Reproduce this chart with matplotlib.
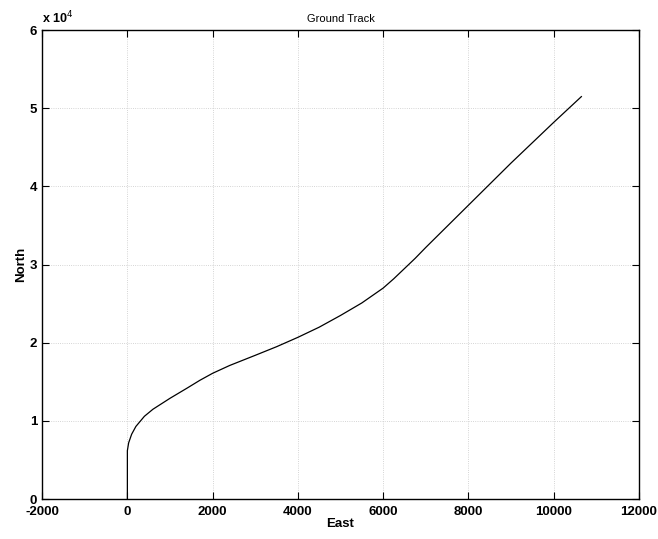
import matplotlib.pyplot as plt
from matplotlib.ticker import FuncFormatter

# ground track (metres)
east = [0, 0, 0, 30, 100, 200, 400, 600, 1000, 1400, 1700, 2000, 2400, 3000,
        3500, 4000, 4500, 5000, 5500, 6000, 6250, 6500, 6750, 7000, 7500,
        8000, 9000, 10000, 10650]
north = [0, 3000, 6200, 7200, 8300, 9300, 10600, 11500, 12900, 14200, 15200,
         16100, 17100, 18400, 19500, 20700, 22000, 23500, 25100, 27000, 28200,
         29500, 30800, 32200, 34900, 37600, 43000, 48200, 51500]

xticks = [-2000, 0, 2000, 4000, 6000, 8000, 10000, 12000]
yticks = [0, 10000, 20000, 30000, 40000, 50000, 60000]

plt.rcParams['font.family'] = ['Liberation Sans', 'DejaVu Sans']
plt.rcParams['axes.unicode_minus'] = False

fig = plt.figure(figsize=(6.58, 5.39), dpi=100)
ax = fig.add_axes([0.064, 0.074, 0.907, 0.870])

ax.plot(east, north, color='black', linewidth=0.9)

ax.set_xlim(-2000, 12000)
ax.set_ylim(0, 60000)
ax.set_xticks(xticks)
ax.set_yticks(yticks)
ax.yaxis.set_major_formatter(FuncFormatter(lambda v, p: '%g' % (v / 1e4)))

ax.tick_params(direction='in', top=True, right=True, length=5, width=0.8,
               labelsize=9.5)
ax.tick_params(axis='x', pad=5)
for lab in ax.get_xticklabels() + ax.get_yticklabels():
    lab.set_fontweight('bold')

ax.grid(True, linestyle=':', color='0.78', linewidth=0.6)
for s in ax.spines.values():
    s.set_linewidth(1.0)

ax.text(0.0, 1.008, 'x 10$^4$', transform=ax.transAxes, fontsize=9,
        fontweight='bold', ha='left', va='bottom')
ax.set_title('Ground Track', fontsize=8, pad=6)
ax.set_xlabel('East', fontsize=9.5, fontweight='bold', labelpad=0)
ax.set_ylabel('North', fontsize=9.5, fontweight='bold', labelpad=2)

plt.savefig('out.png', dpi=100)
plt.close()
